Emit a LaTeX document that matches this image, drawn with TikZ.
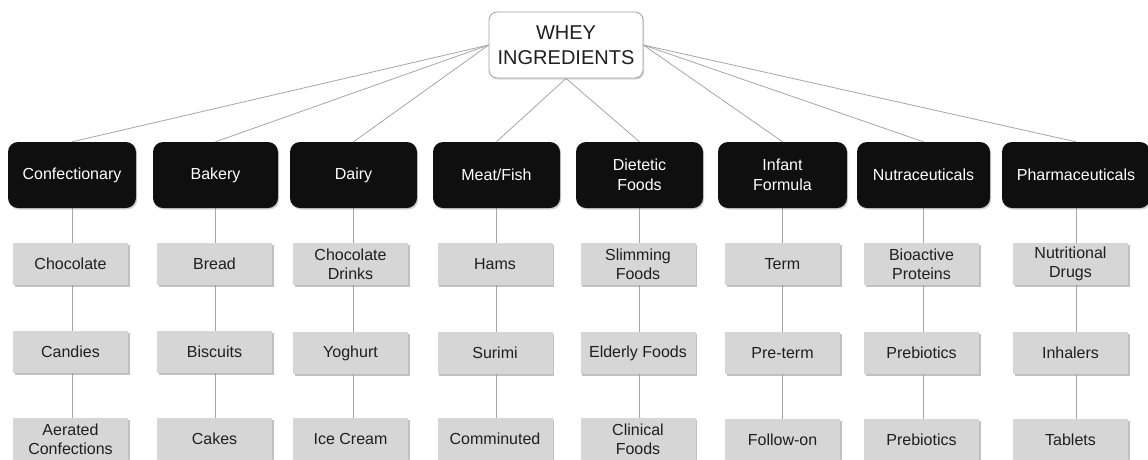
\documentclass[tikz,border=0pt]{standalone}
\usepackage{fontspec}
\setmainfont{Liberation Sans}
\usetikzlibrary{shadows,backgrounds}
\tikzset{
  rootbox/.style={draw=gray!75, line width=0.8pt, fill=white, rounded corners=8pt,
    minimum width=154pt, minimum height=66pt, inner sep=0pt, align=center,
    font=\fontsize{20}{25}\selectfont, text=black!88,
    drop shadow={shadow xshift=1.2pt, shadow yshift=-1.5pt, opacity=0.3}},
  catbox/.style={fill=black!94, text=white, rounded corners=10pt,
    minimum height=66pt, inner sep=0pt, align=center,
    font=\fontsize{16}{20}\selectfont,
    drop shadow={shadow xshift=1.2pt, shadow yshift=-1.5pt, opacity=0.35}},
  itembox/.style={fill=gray!32, minimum width=115pt, minimum height=42pt,
    inner sep=0pt, align=center, text=black!88,
    font=\fontsize{16}{19}\selectfont,
    drop shadow={shadow xshift=1.5pt, shadow yshift=-1.5pt, fill=gray!80, opacity=0.6}},
  link/.style={draw=gray!70, line width=0.8pt}
}
\begin{document}
\begin{tikzpicture}[x=1pt,y=-1pt]
\useasboundingbox (0,0) rectangle (1148,459);

\node[rootbox] (root) at (566,45) {WHEY\\INGREDIENTS};

\node[catbox, minimum width=128pt] (c1) at (72,175) {Confectionary};
\node[catbox, minimum width=125pt] (c2) at (215.5,175) {Bakery};
\node[catbox, minimum width=127pt] (c3) at (353.5,175) {Dairy};
\node[catbox, minimum width=127pt] (c4) at (496.5,175) {Meat/Fish};
\node[catbox, minimum width=127pt] (c5) at (639.5,175) {Dietetic\\Foods};
\node[catbox, minimum width=129pt] (c6) at (782.5,175) {Infant\\Formula};
\node[catbox, minimum width=133pt] (c7) at (923.5,175) {Nutraceuticals};
\node[catbox, minimum width=148pt] (c8) at (1076,175) {Pharmaceuticals};

% items row 1
\node[itembox] (a1) at (70.5,264) {Chocolate};
\node[itembox] (a2) at (214.5,264) {Bread};
\node[itembox] (a3) at (350.5,264) {Chocolate\\Drinks};
\node[itembox] (a4) at (495,264) {Hams};
\node[itembox] (a5) at (638,264) {Slimming\\Foods};
\node[itembox] (a6) at (782.5,264) {Term};
\node[itembox] (a7) at (921.5,264) {Bioactive\\Proteins};
\node[itembox] (a8) at (1070.5,264) {Nutritional\\Drugs};
% row 2
\node[itembox] (b1) at (70.5,352) {Candies};
\node[itembox] (b2) at (214.5,352) {Biscuits};
\node[itembox] (b3) at (350.5,353) {Yoghurt};
\node[itembox] (b4) at (495,353) {Surimi};
\node[itembox] (b5) at (638,353) {Elderly Foods};
\node[itembox] (b6) at (782.5,353) {Pre-term};
\node[itembox] (b7) at (921.5,353) {Prebiotics};
\node[itembox] (b8) at (1070.5,353) {Inhalers};
% row 3
\node[itembox] (d1) at (70.5,439) {Aerated\\Confections};
\node[itembox] (d2) at (214.5,439) {Cakes};
\node[itembox] (d3) at (350.5,439) {Ice Cream};
\node[itembox] (d4) at (495,439) {Comminuted};
\node[itembox] (d5) at (638,439) {Clinical\\Foods};
\node[itembox] (d6) at (782.5,440) {Follow-on};
\node[itembox] (d7) at (921.5,440) {Prebiotics};
\node[itembox] (d8) at (1070.5,440) {Tablets};

\begin{scope}[on background layer]
  \fill[white] (0,0) rectangle (1148,459);
  \draw[link] (root.west) -- (c1.north);
  \draw[link] (root.west) -- (c2.north);
  \draw[link] (root.west) -- (c3.north);
  \draw[link] (root.south) -- (c4.north);
  \draw[link] (root.south) -- (c5.north);
  \draw[link] (root.east) -- (c6.north);
  \draw[link] (root.east) -- (c7.north);
  \draw[link] (root.east) -- (c8.north);
  \foreach \i in {1,...,8}{
    \draw[link] (c\i.south) -- (c\i.south |- a\i.north);
    \draw[link] (c\i.south |- a\i.south) -- (c\i.south |- b\i.north);
    \draw[link] (c\i.south |- b\i.south) -- (c\i.south |- d\i.north);
  }
\end{scope}
\end{tikzpicture}
\end{document}
